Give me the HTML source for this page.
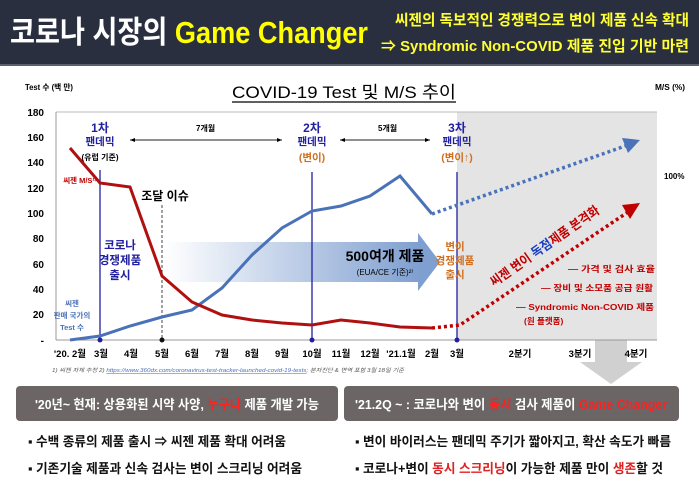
<!DOCTYPE html>
<html><head><meta charset="utf-8"><style>
body{margin:0;width:699px;height:495px;background:#fff;overflow:hidden;font-family:"Liberation Sans","Noto Sans CJK KR",sans-serif;}
.hdr{position:absolute;left:0;top:0;width:699px;height:64px;background:#2a2f3f;border-bottom:2px solid #5a6070}
</style></head><body>
<div class="hdr"></div>
<svg width="699" height="495" style="position:absolute;left:0;top:0" font-family="Liberation Sans, Noto Sans CJK KR, sans-serif">
<text x="10" y="43" font-size="31" font-weight="bold" fill="#fff" textLength="358" lengthAdjust="spacingAndGlyphs">코로나 시장의 <tspan fill="#ffff00">Game Changer</tspan></text>
<text x="395" y="25" font-size="15" font-weight="bold" fill="#ffff33" textLength="294" lengthAdjust="spacingAndGlyphs">씨젠의 독보적인 경쟁력으로 변이 제품 신속 확대</text>
<text x="381" y="51" font-size="15" font-weight="bold" fill="#ffff33" textLength="308" lengthAdjust="spacingAndGlyphs">⇒ Syndromic Non-COVID 제품 진입 기반 마련</text>
<defs><linearGradient id="g" x1="0" x2="1"><stop offset="0" stop-color="#fff"/><stop offset="1" stop-color="#7f9fd0"/></linearGradient></defs>
<rect x="457" y="112" width="200" height="228" fill="#e4e4e4"/>
<rect x="595" y="340" width="32" height="22" fill="#d0d0d0"/>
<polygon points="580,362 642,362 611,384" fill="#d0d0d0"/>
<line x1="56" y1="112" x2="657" y2="112" stroke="#bbb"/>
<line x1="56" y1="112" x2="56" y2="340" stroke="#999"/>
<line x1="56" y1="340" x2="657" y2="340" stroke="#999"/>
<g font-size="10" font-weight="bold" text-anchor="end">
<text x="44" y="116">180</text><text x="44" y="141">160</text><text x="44" y="166">140</text><text x="44" y="192">120</text><text x="44" y="217">100</text><text x="44" y="242">80</text><text x="44" y="268">60</text><text x="44" y="293">40</text><text x="44" y="318">20</text><text x="44" y="344">-</text></g>
<text x="25" y="90" font-size="8" font-weight="bold" textLength="48" lengthAdjust="spacingAndGlyphs">Test 수 (백 만)</text>
<text x="655" y="90" font-size="8" font-weight="bold" textLength="30" lengthAdjust="spacingAndGlyphs">M/S (%)</text>
<text x="664" y="179" font-size="8" font-weight="bold">100%</text>
<text x="232" y="98" font-size="17" textLength="224" lengthAdjust="spacingAndGlyphs">COVID-19 Test 및 M/S 추이</text>
<line x1="232" y1="102" x2="456" y2="102" stroke="#000" stroke-width="1.2"/>
<g font-size="9.5" font-weight="bold" text-anchor="middle">
<text x="70" y="357">'20. 2월</text><text x="101" y="357">3월</text><text x="131" y="357">4월</text><text x="162" y="357">5월</text><text x="192" y="357">6월</text><text x="222" y="357">7월</text><text x="252" y="357">8월</text><text x="282" y="357">9월</text><text x="312" y="357">10월</text><text x="341" y="357">11월</text><text x="370" y="357">12월</text><text x="401" y="357">'21.1월</text><text x="432" y="357">2월</text><text x="457" y="357">3월</text><text x="520" y="357">2분기</text><text x="580" y="357">3분기</text><text x="636" y="357">4분기</text></g>
<rect x="165" y="242" width="255" height="40" fill="url(#g)"/>
<polygon points="418,233 440,262 418,291" fill="#7f9fd0"/>
<text x="385" y="261" font-size="14" font-weight="bold" text-anchor="middle">500여개 제품</text>
<text x="385" y="275" font-size="8" text-anchor="middle">(EUA/CE 기준)²⁾</text>
<line x1="100" y1="170" x2="100" y2="340" stroke="#2020a0" stroke-width="1.3"/>
<line x1="312" y1="172" x2="312" y2="340" stroke="#2020a0" stroke-width="1.3"/>
<line x1="457" y1="172" x2="457" y2="340" stroke="#2020a0" stroke-width="1.3"/>
<line x1="162" y1="205" x2="162" y2="340" stroke="#444" stroke-dasharray="3,2"/>
<circle cx="162" cy="340" r="2.5" fill="#111"/><circle cx="100" cy="340" r="2.5" fill="#2020a0"/><circle cx="312" cy="340" r="2.5" fill="#2020a0"/><circle cx="457" cy="340" r="2.5" fill="#2020a0"/>
<polyline points="70,340 100,336 130,326 162,317 192,310 222,288 252,255 282,228 312,211 341,206 370,196 400,176 432,214" fill="none" stroke="#4a72b8" stroke-width="3"/>
<polyline points="432,214 628,145" fill="none" stroke="#4a72b8" stroke-width="3.5" stroke-dasharray="3,3"/>
<polygon points="622,138 640,140 628,153" fill="#4a72b8"/>
<polyline points="70,148 100,183 130,187 162,276 192,302 222,315 252,320 282,323 312,325 341,320 370,323 400,327 432,328" fill="none" stroke="#b01010" stroke-width="3"/>
<polyline points="432,328 460,325 628,212" fill="none" stroke="#c00000" stroke-width="3.5" stroke-dasharray="3,3"/>
<polygon points="622,205 640,203 630,219" fill="#c00000"/>
<g font-size="8" font-weight="bold"><line x1="130" y1="140" x2="282" y2="140" stroke="#222"/><polygon points="130,140 135,138 135,142"/><polygon points="282,140 277,138 277,142"/><text x="196" y="131">7개월</text>
<line x1="340" y1="140" x2="430" y2="140" stroke="#222"/><polygon points="340,140 345,138 345,142"/><polygon points="430,140 425,138 425,142"/><text x="378" y="131">5개월</text></g>
<g font-weight="bold" text-anchor="middle">
<text x="100" y="132" font-size="12" fill="#2020a0">1차</text><text x="100" y="145" font-size="10.5" fill="#2020a0">팬데믹</text><text x="100" y="160" font-size="8" fill="#000">(유럽 기준)</text>
<text x="312" y="132" font-size="12" fill="#2020a0">2차</text><text x="312" y="145" font-size="10.5" fill="#2020a0">팬데믹</text><text x="312" y="161" font-size="10.5" fill="#d07020">(변이)</text>
<text x="457" y="132" font-size="12" fill="#2020a0">3차</text><text x="457" y="145" font-size="10.5" fill="#2020a0">팬데믹</text><text x="457" y="161" font-size="10.5" fill="#d07020">(변이↑)</text>
<text x="120" y="249" font-size="11.5" fill="#2020a0">코로나</text><text x="120" y="264" font-size="11.5" fill="#2020a0">경쟁제품</text><text x="120" y="279" font-size="11.5" fill="#2020a0">출시</text>
<text x="455" y="250" font-size="10.5" fill="#d07020">변이</text><text x="455" y="264" font-size="10.5" fill="#d07020">경쟁제품</text><text x="455" y="278" font-size="10.5" fill="#d07020">출시</text>
<text x="72" y="306" font-size="7.5" fill="#4a72b8">씨젠</text><text x="72" y="318" font-size="7.5" fill="#4a72b8">판매 국가의</text><text x="72" y="330" font-size="7.5" fill="#4a72b8">Test 수</text>
<text x="80" y="183" font-size="7.5" fill="#c00000">씨젠 M/S¹⁾</text>
<text x="165" y="200" font-size="12" fill="#000">조달 이슈</text></g>
<text x="0" y="0" font-size="13" font-weight="bold" fill="#c00000" transform="translate(494,287) rotate(-35)" textLength="130" lengthAdjust="spacingAndGlyphs">씨젠 변이 <tspan fill="#1a3fc0">독점</tspan>제품 본격화</text>
<g font-size="8.5" font-weight="bold" fill="#c00000"><text x="568" y="272" textLength="87" lengthAdjust="spacingAndGlyphs">— 가격 및 검사 효율</text><text x="541" y="291" textLength="112" lengthAdjust="spacingAndGlyphs">— 장비 및 소모품 공급 원활</text><text x="516" y="310" textLength="138" lengthAdjust="spacingAndGlyphs">— Syndromic Non-COVID 제품</text><text x="524" y="324">(원 플랫폼)</text></g>
<text x="52" y="372" font-size="5.5" fill="#555" font-style="italic" textLength="352" lengthAdjust="spacingAndGlyphs">1) 씨젠 자체 추정 2) <tspan fill="#4a72b8" text-decoration="underline">https://www.360dx.com/coronavirus-test-tracker-launched-covid-19-tests</tspan>; 분자진단 &amp; 면역 포함 3월 18일 기준</text>
<rect x="16" y="386" width="322" height="35" rx="4" fill="#6b6566"/>
<rect x="344" y="386" width="335" height="35" rx="4" fill="#6b6566"/>
<text x="35" y="409" font-size="13" font-weight="bold" fill="#fff" textLength="284" lengthAdjust="spacingAndGlyphs">'20년~ 현재: 상용화된 시약 사양, <tspan fill="#ff2020">누구나</tspan> 제품 개발 가능</text>
<text x="355" y="409" font-size="13" font-weight="bold" fill="#fff" textLength="312" lengthAdjust="spacingAndGlyphs">'21.2Q ~ : 코로나와 변이 <tspan fill="#ff2020">동시</tspan> 검사 제품이 <tspan fill="#ff2020">Game Changer</tspan></text>
<g font-size="13" font-weight="bold" fill="#111">
<text x="28" y="446" textLength="258" lengthAdjust="spacingAndGlyphs">▪ 수백 종류의 제품 출시 ⇒ 씨젠 제품 확대 어려움</text>
<text x="28" y="473" textLength="274" lengthAdjust="spacingAndGlyphs">▪ 기존기술 제품과 신속 검사는 변이 스크리닝 어려움</text>
<text x="355" y="446" textLength="316" lengthAdjust="spacingAndGlyphs">▪ 변이 바이러스는 팬데믹 주기가 짧아지고, 확산 속도가 빠름</text>
<text x="355" y="473" textLength="308" lengthAdjust="spacingAndGlyphs">▪ 코로나+변이 <tspan fill="#e02020">동시 스크리닝</tspan>이 가능한 제품 만이 <tspan fill="#e02020">생존</tspan>할 것</text></g>
</svg>
</body></html>
